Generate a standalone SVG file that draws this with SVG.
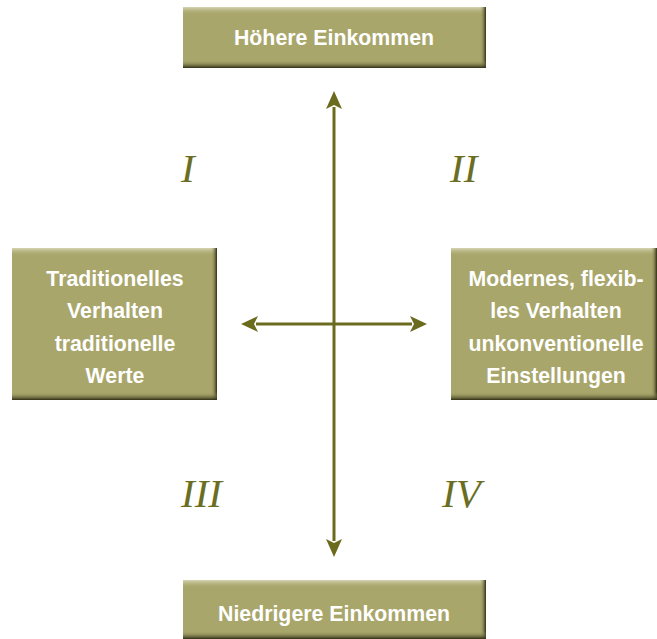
<svg xmlns="http://www.w3.org/2000/svg" width="657" height="639" viewBox="0 0 657 639">
<style>
.box{fill:#A9A66B}
.lbl{font-family:"Liberation Sans",Arial,sans-serif;font-weight:bold;font-size:21.3px;fill:#ffffff;text-anchor:middle}
.num{font-family:"Liberation Serif","Times New Roman",serif;font-style:italic;font-size:41px;fill:#6B6E22}
.ax{stroke:#6B6B1E;stroke-width:3;fill:none}
</style>
<defs>
<linearGradient id="gt" x1="0" y1="0" x2="0" y2="1"><stop offset="0" stop-color="#D6D5B4"/><stop offset="1" stop-color="#A9A66B" stop-opacity="0"/></linearGradient>
<linearGradient id="gb" x1="0" y1="0" x2="0" y2="1"><stop offset="0" stop-color="#A9A66B" stop-opacity="0"/><stop offset="1" stop-color="#2E2D14"/></linearGradient>
<linearGradient id="gr" x1="0" y1="0" x2="1" y2="0"><stop offset="0" stop-color="#A9A66B" stop-opacity="0"/><stop offset="1" stop-color="#2E2D14"/></linearGradient>
</defs>
<g id="connectors">
<line class="ax" x1="334" y1="107" x2="334" y2="541"/>
<path d="M326,109 L334,91 L342,109 L334,105 Z" fill="#6B6B1E"/>
<path d="M326,539 L334,557 L342,539 L334,543 Z" fill="#6B6B1E"/>
<line class="ax" x1="256" y1="324" x2="412" y2="324"/>
<path d="M258,316 L241,324 L258,332 L254,324 Z" fill="#6B6B1E"/>
<path d="M410,316 L427,324 L410,332 L414,324 Z" fill="#6B6B1E"/>
</g>
<g id="top">
<rect class="box" x="183" y="7" width="303" height="61"/>
<rect x="183" y="7" width="303" height="8" fill="url(#gt)"/>
<rect x="480" y="7" width="6" height="61" fill="url(#gr)"/>
<rect x="183" y="60" width="303" height="8" fill="url(#gb)"/>
<text class="lbl" x="334" y="45">Höhere Einkommen</text>
</g>
<g id="left">
<rect class="box" x="12" y="248" width="205" height="152"/>
<rect x="12" y="248" width="205" height="8" fill="url(#gt)"/>
<rect x="211" y="248" width="6" height="152" fill="url(#gr)"/>
<rect x="12" y="392" width="205" height="8" fill="url(#gb)"/>
<text class="lbl" x="115" y="286">Traditionelles</text>
<text class="lbl" x="115" y="318">Verhalten</text>
<text class="lbl" x="115" y="351">traditionelle</text>
<text class="lbl" x="115" y="383">Werte</text>
</g>
<g id="right">
<rect class="box" x="451" y="248" width="206" height="152"/>
<rect x="451" y="248" width="206" height="8" fill="url(#gt)"/>
<rect x="651" y="248" width="6" height="152" fill="url(#gr)"/>
<rect x="451" y="392" width="206" height="8" fill="url(#gb)"/>
<text class="lbl" x="556" y="286">Modernes, flexib-</text>
<text class="lbl" x="556" y="318">les Verhalten</text>
<text class="lbl" x="556" y="351">unkonventionelle</text>
<text class="lbl" x="556" y="383">Einstellungen</text>
</g>
<g id="bottom">
<rect class="box" x="183" y="580" width="303" height="59"/>
<rect x="183" y="580" width="303" height="8" fill="url(#gt)"/>
<rect x="480" y="580" width="6" height="59" fill="url(#gr)"/>
<rect x="183" y="631" width="303" height="8" fill="url(#gb)"/>
<text class="lbl" x="334" y="621">Niedrigere Einkommen</text>
</g>
<g id="numerals">
<text class="num" x="181" y="182">I</text>
<text class="num" x="450" y="182">II</text>
<text class="num" x="181" y="507">III</text>
<text class="num" x="442" y="507">IV</text>
</g>
</svg>
